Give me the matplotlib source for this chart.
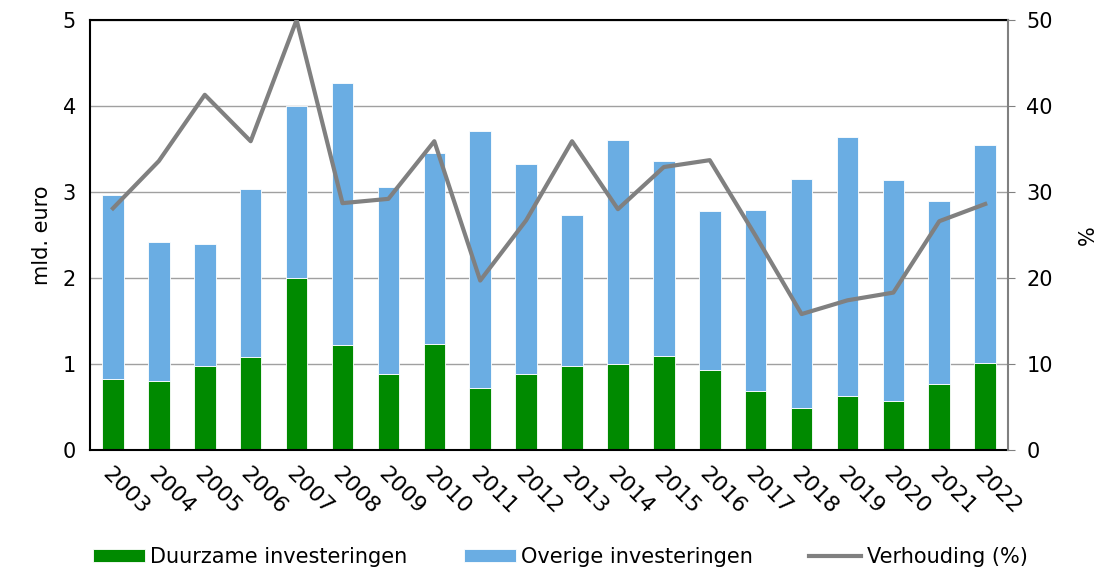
import numpy as np
import matplotlib.pyplot as plt

years = [str(y) for y in range(2003, 2023)]
duurzaam = [0.83, 0.80, 0.98, 1.08, 2.00, 1.22, 0.88, 1.23, 0.72, 0.88,
            0.98, 1.00, 1.09, 0.93, 0.69, 0.49, 0.63, 0.57, 0.77, 1.01]
totaal = [2.96, 2.42, 2.40, 3.03, 4.00, 4.27, 3.06, 3.45, 3.71, 3.32,
          2.73, 3.60, 3.36, 2.78, 2.79, 3.15, 3.64, 3.14, 2.89, 3.55]
verhouding = [28.1, 33.6, 41.3, 35.9, 50.0, 28.7, 29.2, 35.9, 19.7, 26.7,
              35.9, 28.0, 32.9, 33.7, 24.9, 15.8, 17.4, 18.3, 26.6, 28.6]

overig = np.array(totaal) - np.array(duurzaam)
x = np.arange(len(years))

green = '#008a00'
blue = '#6aade3'
grey = '#808080'

plt.rcParams['font.family'] = 'DejaVu Sans'
fig = plt.figure(figsize=(11.03, 5.71), dpi=100)
ax = fig.add_axes([0.0816, 0.212, 0.8324, 0.753])

ax.bar(x, duurzaam, 0.47, color=green, edgecolor='white', linewidth=0.6,
       label='Duurzame investeringen', zorder=2)
ax.bar(x, overig, 0.47, bottom=duurzaam, color=blue, edgecolor='white',
       linewidth=0.6, label='Overige investeringen', zorder=2)

ax.set_xlim(-0.5, len(years) - 0.5)
ax.set_ylim(0, 5)
ax.set_yticks(range(6))
ax.yaxis.grid(True, color='#a0a0a0', linewidth=1, zorder=0)
ax.set_axisbelow(True)
ax.set_xticks(x)
ax.set_xticklabels(years, rotation=-45, ha='left', va='top',
                   rotation_mode='anchor', fontsize=16)
ax.tick_params(axis='x', length=0, pad=10)
ax.tick_params(axis='y', length=0, labelsize=15, pad=10)
ax.set_ylabel('mld. euro', fontsize=15, labelpad=8)
for s in ['left', 'top', 'bottom']:
    ax.spines[s].set_color('black')
    ax.spines[s].set_linewidth(1.5)
ax.spines['right'].set_visible(False)

ax2 = ax.twinx()
line, = ax2.plot(x, verhouding, color=grey, linewidth=3, label='Verhouding (%)', zorder=3)
ax2.set_ylim(0, 50)
ax2.set_yticks(range(0, 51, 10))
ax2.tick_params(axis='y', length=5, color=grey, labelsize=15, pad=8)
ax2.set_ylabel('%', fontsize=15, labelpad=18)
ax2.spines['right'].set_color(grey)
ax2.spines['right'].set_linewidth(1.5)
for s in ['left', 'top', 'bottom']:
    ax2.spines[s].set_visible(False)

h1, l1 = ax.get_legend_handles_labels()
fig.legend(h1 + [line], l1 + ['Verhouding (%)'], loc='lower center',
           bbox_to_anchor=(0.508, -0.025), ncol=3, frameon=False, fontsize=15,
           handlelength=2.5, handleheight=0.6, columnspacing=2.7, handletextpad=0.25)

fig.savefig('out.png', dpi=100)
